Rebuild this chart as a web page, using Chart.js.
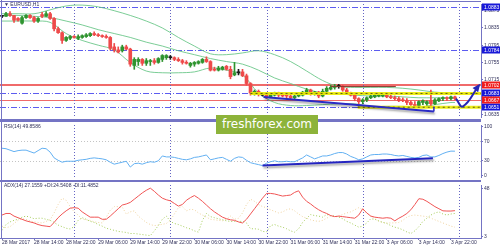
<!doctype html>
<html lang="en">
<head>
<meta charset="utf-8">
<title>EURUSD H1</title>
<script src="https://cdn.jsdelivr.net/npm/chart.js@4.4.0/dist/chart.umd.min.js"></script>
<style>
  html, body { margin: 0; padding: 0; background: #fff; }
  #wrap { position: relative; width: 500px; height: 250px; overflow: hidden; background: #fff; }
  canvas { position: absolute; left: 0; }
  #main { top: 0; }
  #rsi { top: 121px; }
  #adx { top: 181px; }
  .rule { position: absolute; background: #7474c4; }
  .brand { position: absolute; left: 216px; top: 115px; width: 102px; height: 19px; background: #8db33a;
           color: #fff; font: 12px "DejaVu Sans", sans-serif; line-height: 19px; text-align: center; }
</style>
</head>
<body>
<div id="wrap">
  <canvas id="main" width="500" height="121"></canvas>
  <canvas id="rsi" width="500" height="60"></canvas>
  <canvas id="adx" width="500" height="69"></canvas>
  <div class="rule" style="left:1px;top:0;width:1px;height:238px"></div>
  <div class="rule" style="left:0;top:1px;width:481px;height:1px"></div>
  <div class="rule" style="left:0;top:119px;width:481px;height:3px"></div>
  <div class="rule" style="left:0;top:180px;width:481px;height:2px"></div>
  <div class="brand">freshforex.com</div>
</div>
<script>
// hourly bars, 28 Mar 2017 06:00 .. 3 Apr 2017 23:00 (weekend skipped)
const opens = [
  1.0862, 1.0862, 1.0868, 1.0864, 1.0857, 1.0846, 1.0859, 1.0864, 1.0859, 1.0851,
  1.0866, 1.0862, 1.0868, 1.0857, 1.0833, 1.0824, 1.0806, 1.0811, 1.0815, 1.0811,
  1.0813, 1.0815, 1.0817, 1.0822, 1.0819, 1.0817, 1.0815, 1.0813, 1.0791, 1.0784,
  1.0782, 1.0791, 1.0786, 1.0748, 1.0757, 1.0762, 1.0753, 1.0757, 1.0759, 1.0755,
  1.0762, 1.0766, 1.0766, 1.0766, 1.0762, 1.0759, 1.0755, 1.0748, 1.0751, 1.0753,
  1.0755, 1.0762, 1.0757, 1.0739, 1.0737, 1.0739, 1.0746, 1.0739, 1.0726, 1.0731,
  1.0733, 1.0724, 1.0706, 1.0682, 1.0688, 1.0679, 1.0679, 1.0675, 1.0679, 1.0684,
  1.0679, 1.0679, 1.0677, 1.0673, 1.0677, 1.0679, 1.0684, 1.0691, 1.0684, 1.0686,
  1.0677, 1.0688, 1.0693, 1.0697, 1.0699, 1.0699, 1.0691, 1.0684, 1.0679, 1.0671,
  1.0664, 1.0668, 1.0673, 1.0675, 1.0677, 1.0677, 1.0679, 1.0675, 1.0673, 1.0671,
  1.0668, 1.0666, 1.0662, 1.0657, 1.0655, 1.0662, 1.0659, 1.0666, 1.0659, 1.0666,
  1.0671, 1.0673, 1.0671, 1.0675
];
const highs = [
  1.0864, 1.0871, 1.0873, 1.0864, 1.0859, 1.0862, 1.0866, 1.0866, 1.0862, 1.0859,
  1.0871, 1.0873, 1.0871, 1.0859, 1.0837, 1.0826, 1.0815, 1.0817, 1.0817, 1.0819,
  1.0819, 1.0822, 1.0824, 1.0826, 1.0822, 1.0819, 1.0819, 1.0815, 1.0799, 1.0791,
  1.0795, 1.0795, 1.0788, 1.0766, 1.0766, 1.0764, 1.0764, 1.0762, 1.0764, 1.0766,
  1.0773, 1.0773, 1.0771, 1.0768, 1.0766, 1.0762, 1.0759, 1.0755, 1.0757, 1.0759,
  1.0764, 1.0768, 1.0759, 1.0744, 1.0746, 1.0746, 1.0748, 1.0746, 1.0755, 1.0739,
  1.0739, 1.0728, 1.0708, 1.0691, 1.0691, 1.0684, 1.0682, 1.0684, 1.0686, 1.0686,
  1.0684, 1.0682, 1.0682, 1.0679, 1.0684, 1.0688, 1.0695, 1.0693, 1.0688, 1.0688,
  1.0693, 1.0699, 1.0702, 1.0704, 1.0704, 1.0702, 1.0695, 1.0686, 1.0684, 1.0673,
  1.0671, 1.0675, 1.0679, 1.0682, 1.0682, 1.0682, 1.0682, 1.0679, 1.0677, 1.0675,
  1.0673, 1.0671, 1.0666, 1.0664, 1.0666, 1.0668, 1.0666, 1.0691, 1.0671, 1.0673,
  1.0675, 1.0675, 1.0677, 1.0677
];
const lows = [
  1.0859, 1.0862, 1.0862, 1.0848, 1.0851, 1.0844, 1.0857, 1.0857, 1.0848, 1.0848,
  1.0859, 1.0862, 1.0855, 1.0828, 1.0822, 1.0799, 1.0804, 1.0808, 1.0811, 1.0808,
  1.0811, 1.0813, 1.0815, 1.0817, 1.0815, 1.0813, 1.0811, 1.0784, 1.0779, 1.0777,
  1.0779, 1.0784, 1.0746, 1.0739, 1.0748, 1.0748, 1.0748, 1.0748, 1.0751, 1.0753,
  1.0757, 1.0762, 1.0762, 1.0759, 1.0757, 1.0751, 1.0751, 1.0744, 1.0746, 1.0751,
  1.0753, 1.0755, 1.0735, 1.0735, 1.0735, 1.0737, 1.0737, 1.0717, 1.0724, 1.0726,
  1.0722, 1.0702, 1.0679, 1.0679, 1.0677, 1.0677, 1.0671, 1.0673, 1.0677, 1.0675,
  1.0675, 1.0673, 1.0671, 1.0671, 1.0675, 1.0677, 1.0682, 1.0679, 1.0679, 1.0673,
  1.0675, 1.0684, 1.0691, 1.0693, 1.0695, 1.0688, 1.0682, 1.0677, 1.0666, 1.0659,
  1.0659, 1.0664, 1.0671, 1.0673, 1.0675, 1.0675, 1.0673, 1.0671, 1.0668, 1.0664,
  1.0664, 1.0657, 1.0655, 1.0651, 1.0653, 1.0657, 1.0655, 1.0651, 1.0657, 1.0664,
  1.0666, 1.0666, 1.0668, 1.0668
];
const closes = [
  1.0862, 1.0868, 1.0864, 1.0853, 1.0853, 1.0859, 1.0864, 1.0859, 1.0851, 1.0857,
  1.0862, 1.0868, 1.0857, 1.0833, 1.0824, 1.0806, 1.0813, 1.0815, 1.0813, 1.0815,
  1.0817, 1.0819, 1.0822, 1.0819, 1.0817, 1.0815, 1.0813, 1.0788, 1.0784, 1.0779,
  1.0791, 1.0786, 1.0751, 1.0762, 1.0762, 1.0753, 1.0759, 1.0759, 1.0755, 1.0764,
  1.0771, 1.0771, 1.0766, 1.0762, 1.0759, 1.0755, 1.0753, 1.0753, 1.0755, 1.0757,
  1.0762, 1.0757, 1.0737, 1.0737, 1.0742, 1.0744, 1.0739, 1.0722, 1.0731, 1.0731,
  1.0724, 1.0706, 1.0684, 1.0688, 1.0682, 1.0679, 1.0673, 1.0682, 1.0684, 1.0679,
  1.0677, 1.0677, 1.0673, 1.0677, 1.0682, 1.0686, 1.0691, 1.0684, 1.0686, 1.0677,
  1.0688, 1.0695, 1.0697, 1.0699, 1.0699, 1.0691, 1.0684, 1.0679, 1.0671, 1.0664,
  1.0668, 1.0673, 1.0677, 1.0679, 1.0679, 1.0679, 1.0675, 1.0673, 1.0671, 1.0666,
  1.0666, 1.0662, 1.0657, 1.0655, 1.0664, 1.0666, 1.0664, 1.0659, 1.0668, 1.0671,
  1.0673, 1.0671, 1.0675, 1.0671
];

// Bollinger bands (20), read every 4 bars
const bbHours = [0, 4, 8, 12, 16, 20, 24, 28, 32, 36, 40, 44, 48, 52, 56, 60, 64, 68, 72, 76, 80, 84, 88, 92, 96, 100, 104, 108, 112, 113];
const bbUpper = [1.0868, 1.0868, 1.0868, 1.0877, 1.0886, 1.0888, 1.0884, 1.0875, 1.0864, 1.0851, 1.0835, 1.0813, 1.0793, 1.0775, 1.0773,
                 1.0777, 1.0782, 1.0773, 1.0757, 1.0735, 1.0713, 1.0699, 1.0697, 1.0697, 1.0697, 1.0695, 1.0691, 1.0686, 1.0684, 1.0684];
const bbMid   = [1.0864, 1.0864, 1.0862, 1.0859, 1.0851, 1.0842, 1.0831, 1.0822, 1.0813, 1.0802, 1.0793, 1.0782, 1.0773, 1.0764, 1.0757,
                 1.0751, 1.0737, 1.0719, 1.0706, 1.0693, 1.0684, 1.0682, 1.0679, 1.0677, 1.0677, 1.0675, 1.0673, 1.0673, 1.0673, 1.0673];
const bbLower = [1.0851, 1.0851, 1.0851, 1.0848, 1.0822, 1.0806, 1.0795, 1.0784, 1.0755, 1.0735, 1.0731, 1.0731, 1.0733, 1.0742, 1.0737,
                 1.0726, 1.0684, 1.0662, 1.0655, 1.0655, 1.0657, 1.0659, 1.0659, 1.0653, 1.0653, 1.0653, 1.0651, 1.0657, 1.0662, 1.0662];

const rsi = [
  56, 55, 52, 49, 51, 52, 52, 49, 46, 51,
  56, 55, 48, 36, 31, 27, 29, 29, 29, 31,
  32, 33, 35, 36, 35, 34, 32, 27, 23, 25,
  27, 29, 17, 24, 25, 23, 26, 28, 27, 30,
  40, 38, 38, 37, 35, 33, 32, 34, 37, 38,
  40, 42, 32, 34, 36, 37, 33, 29, 35, 38,
  37, 31, 26, 24, 22, 20, 25, 28, 30, 28,
  28, 29, 28, 28, 32, 36, 42, 38, 34, 37,
  40, 40, 42, 45, 47, 47, 44, 39, 36, 32,
  34, 38, 42, 43, 43, 44, 44, 43, 41, 40,
  41, 39, 37, 36, 37, 41, 42, 38, 38, 41,
  45, 48, 50, 49.86
];
const adx = [
  23, 24.5, 24.5, 22, 20.5, 19, 17.5, 16.5, 15.5, 14,
  13, 12.5, 12, 16, 20.5, 24, 27, 29.5, 30, 29.5,
  26, 23.5, 21, 21, 21, 19, 19, 22, 25.5, 29,
  32.5, 33.5, 35, 38, 41, 44, 46.5, 48.5, 45.5, 42,
  39, 37.5, 36.5, 34, 31.5, 33, 37, 39.5, 41.5, 39,
  36, 32.5, 29, 26, 23.5, 21, 19.5, 18.5, 18, 16.5,
  15.5, 19, 24, 29, 34, 39, 43.5, 43.5, 43, 42,
  41, 41.5, 42, 44.5, 46, 40, 36, 33.5, 30.5, 28,
  26, 24.5, 22.5, 21.5, 22, 21.5, 21, 20.5, 20, 23,
  29, 25, 22, 21, 20.5, 20, 20.5, 20, 17.5, 20,
  22, 24.5, 28, 33, 38.5, 38, 36, 33.5, 31, 29,
  27, 26.8, 26.8, 27.16
];
const plusDi = [
  8.5, 14, 16.5, 18, 19, 21, 22, 21, 19.5, 20,
  20, 19, 18, 16, 13.5, 12, 10.5, 9.8, 12, 18,
  20.5, 19, 17, 16, 14, 12.5, 10.5, 9.5, 8.5, 7.5,
  7, 6.5, 5.5, 5.5, 5, 4.5, 4, 3.5, 8, 13,
  19, 22, 17, 15, 14, 12.5, 11, 9.8, 8, 6.8,
  18, 24.5, 21.5, 20.5, 19.5, 18.5, 17.5, 17, 17, 17,
  17, 15.5, 10, 10, 9.5, 7.5, 7, 13, 14, 12.5,
  11.5, 10, 8, 6.8, 10, 16, 20, 23.5, 22.5, 22,
  21, 23.5, 22.5, 22, 21, 19.5, 17, 15.5, 13.5, 11.5,
  12.5, 15.5, 19.5, 19, 17.5, 16, 15, 13, 11.5, 10.5,
  9, 7, 5.5, 8, 12, 17, 20, 23, 25, 26,
  24, 23, 24, 24.54
];
const minusDi = [
  12.5, 11, 12, 15, 18, 19.5, 19, 17.5, 16.5, 16,
  15.5, 17, 18.5, 25, 33, 39, 37, 31, 26, 23,
  19, 18.5, 18, 16.5, 16, 15.5, 21, 27.5, 31, 31,
  30.5, 24, 26, 27, 22, 19, 16, 14, 13, 13.5,
  14.2, 15, 18, 24, 30, 31, 27, 28.5, 28, 25,
  23, 21, 19, 18.5, 18, 17.5, 19, 22, 19, 20,
  25, 33, 38, 36, 33, 31, 30, 28, 26.5, 25,
  26, 28, 29, 27, 24, 21.5, 20, 18.5, 17.5, 17,
  18, 20, 22, 21.5, 22, 23.5, 25, 26, 28, 30,
  28, 25, 22, 19.5, 17, 16, 15.5, 15.5, 15.6, 16,
  18, 21, 22.5, 23, 22.5, 22, 21.5, 20, 18.5, 17,
  15.5, 14, 12.5, 11.48
];

// axis text
const timeLabels = ['28 Mar 2017', '28 Mar 14:00', '28 Mar 22:00', '29 Mar 06:00', '29 Mar 14:00', '29 Mar 22:00',
  '30 Mar 06:00', '30 Mar 14:00', '30 Mar 22:00', '31 Mar 06:00', '31 Mar 14:00', '31 Mar 22:00',
  '3 Apr 06:00', '3 Apr 14:00', '3 Apr 22:00'];
const labelStep = 8;
const dayBreaks = [18, 42, 66, 90, 114];
const priceTicks = [1.0875, 1.0835, 1.0795, 1.0755, 1.0715, 1.0675, 1.0635];
const rsiTicks = [100, 70, 30, 0];
const rsiLevels = [70, 30];
const adxTicks = [48, 3];

// drawn objects
const blueLevels = [1.0883, 1.0784, 1.0683, 1.0651];
const redLevels = [1.0706, 1.0702, 1.0667];
const blueTags = [1.0883, 1.0784, 1.0683, 1.0651];
const redTags = [1.0702, 1.0667];
const supportUpX = [62, 119.5], supportUpY = [1.0683, 1.0683];
const supportLowX = [88.75, 119.5], supportLowY = [1.0651, 1.0651];
const resistX = [82, 98.25], resistY = [1.0699, 1.0699];
const trendX = [65.25, 107.75], trendY = [1.0675, 1.0641];
const trendTickX = [107.75, 107.75], trendTickY = [1.0641, 1.0652];
const arrowX = [113.25, 115, 119], arrowY = [1.0671, 1.0653, 1.0702];
const rsiTrendX = [65, 107.5], rsiTrendY = [20.3, 35.4];

Chart.defaults.font.family = '"Liberation Sans", Arial, sans-serif';
Chart.defaults.font.size = 5;
Chart.defaults.color = '#30305a';
Chart.defaults.elements.point.radius = 0;
Chart.defaults.elements.line.borderWidth = 1;

const FRAME = '#7474c4';
const pts = (xs, ys) => xs.map((x, i) => ({x, y: ys[i]}));
const candleColors = closes.map((c, i) => c > opens[i] ? '#2f942f' : c < opens[i] ? '#ee4a4a' : '#1a1a1a');

const panels = {
  main: {
    label: '\u25BC EURUSD,H1', labelY: 5,
    levels: blueLevels.map(v => ({v, color: '#5c5cf0', dash: [6, 2, 1, 2]}))
      .concat(redLevels.map(v => ({v, color: '#f06a6a', dash: []}))),
    tags: blueTags.map(v => ({v, color: '#1818d8'})).concat(redTags.map(v => ({v, color: '#f01c1c'})))
  },
  rsi: {
    label: 'RSI(14) 49.8586', labelY: 6,
    levels: rsiLevels.map(v => ({v, color: '#c4c4c4', dash: [1, 2]})), tags: []
  },
  adx: { label: 'ADX(14) 27.1559 +DI:24.5408 -DI:11.4852', labelY: 5, levels: [], tags: [] }
};

const mt4 = {
  id: 'mt4',
  beforeDatasetsDraw(chart) {
    const cfg = panels[chart.canvas.id];
    const {ctx, chartArea: a, scales: {x, y}} = chart;
    ctx.save();
    ctx.lineWidth = 1;
    cfg.levels.forEach(l => {
      const py = Math.round(y.getPixelForValue(l.v)) + 0.5;
      ctx.strokeStyle = l.color;
      ctx.setLineDash(l.dash);
      ctx.beginPath(); ctx.moveTo(a.left, py); ctx.lineTo(a.right, py); ctx.stroke();
    });
    ctx.strokeStyle = '#6464c4';
    ctx.setLineDash([1, 2]);
    dayBreaks.forEach(h => {
      const px = Math.round(x.getPixelForValue(h)) + 0.5;
      ctx.beginPath(); ctx.moveTo(px, a.top); ctx.lineTo(px, a.bottom); ctx.stroke();
    });
    ctx.restore();
  },
  beforeDatasetDraw(chart, args) {
    if (chart.data.datasets[args.index].shadow) {
      chart.ctx.save();
      chart.ctx.shadowColor = 'rgba(0,0,0,0.35)';
      chart.ctx.shadowOffsetX = 1;
      chart.ctx.shadowOffsetY = 2;
      chart.ctx.shadowBlur = 2;
    }
  },
  afterDatasetDraw(chart, args) {
    if (chart.data.datasets[args.index].shadow) chart.ctx.restore();
  },
  afterDatasetsDraw(chart) {
    const ctx = chart.ctx;
    chart.data.datasets.forEach((ds, i) => {
      if (!ds.arrow) return;
      const d = chart.getDatasetMeta(i).data;
      const p = d[d.length - 1], q = d[d.length - 2];
      const fx = p.cp1x !== undefined ? p.cp1x : q.x, fy = p.cp1y !== undefined ? p.cp1y : q.y;
      const ang = Math.atan2(p.y - fy, p.x - fx);
      const c = Math.cos(ang), s = Math.sin(ang);
      ctx.save();
      ctx.fillStyle = ds.borderColor;
      ctx.beginPath();
      ctx.moveTo(p.x + 2 * c, p.y + 2 * s);
      ctx.lineTo(p.x - 6 * c + 3.5 * s, p.y - 6 * s - 3.5 * c);
      ctx.lineTo(p.x - 6 * c - 3.5 * s, p.y - 6 * s + 3.5 * c);
      ctx.closePath();
      ctx.fill();
      ctx.restore();
    });
  },
  afterDraw(chart) {
    const cfg = panels[chart.canvas.id];
    const {ctx, chartArea: a, scales: {y}} = chart;
    ctx.save();
    ctx.font = '5px "Liberation Sans", Arial, sans-serif';
    ctx.textBaseline = 'middle';
    ctx.textAlign = 'left';
    ctx.fillStyle = '#30305a';
    ctx.fillText(cfg.label, 4, cfg.labelY);
    cfg.tags.forEach(t => {
      const py = Math.round(y.getPixelForValue(t.v));
      ctx.fillStyle = t.color;
      ctx.fillRect(a.right + 1, py - 3.5, 18, 7);
      ctx.fillStyle = '#fff';
      ctx.fillText(t.v.toFixed(4), a.right + 3, py + 0.5);
    });
    ctx.restore();
  }
};

function options(yMin, yMax, yTicks, fmt, showX, pad) {
  return {
    responsive: false, animation: false, devicePixelRatio: 1,
    layout: { padding: pad },
    plugins: { legend: { display: false }, tooltip: { enabled: false } },
    scales: {
      x: {
        type: 'linear', min: -0.5, max: 119.5, offset: false, display: showX,
        afterBuildTicks: s => { s.ticks = timeLabels.map((_, i) => ({value: i * labelStep})); },
        afterFit: s => { s.height = showX ? 12 : 0; },
        grid: { drawOnChartArea: false, tickLength: 2, color: FRAME },
        border: { display: true, color: FRAME },
        ticks: { autoSkip: false, maxRotation: 0, align: 'start', padding: 0,
                 callback: (v, i) => timeLabels[i] }
      },
      y: {
        position: 'right', min: yMin, max: yMax,
        afterBuildTicks: s => { s.ticks = yTicks.map(v => ({value: v})); },
        afterFit: s => { s.width = 19; },
        grid: { drawOnChartArea: false, tickLength: 2, color: FRAME },
        border: { display: true, color: FRAME },
        ticks: { padding: 1, callback: v => v.toFixed(fmt) }
      }
    }
  };
}

const bandColor = 'rgba(100,196,132,0.85)';

new Chart(document.getElementById('main'), {
  type: 'line',
  data: {
    datasets: [
      { data: pts(arrowX, arrowY), borderColor: '#2626b4', borderWidth: 2, tension: 0.45, order: 1, arrow: true },
      { data: pts(trendX, trendY), borderColor: '#2a2ac4', borderWidth: 2, order: 2, shadow: true },
      { data: pts(trendTickX, trendTickY), borderColor: '#2a2ac4', borderWidth: 1.5, order: 2 },
      { data: pts(resistX, resistY), borderColor: '#8a3a30', order: 3 },
      { data: pts(supportUpX, supportUpY), borderColor: '#5e5e10', borderDash: [2, 3], order: 4 },
      { data: pts(supportLowX, supportLowY), borderColor: '#5e5e10', borderDash: [2, 3], order: 4 },
      { data: pts(supportUpX, supportUpY), borderColor: 'rgba(236,236,0,0.9)', borderWidth: 3, order: 5 },
      { data: pts(supportLowX, supportLowY), borderColor: 'rgba(236,236,0,0.9)', borderWidth: 3, order: 5 },
      { type: 'bar', data: closes.map((c, i) => ({x: i, y: [opens[i], c]})), backgroundColor: candleColors,
        barThickness: 3, minBarLength: 1, grouped: false, order: 6 },
      { type: 'bar', data: closes.map((c, i) => ({x: i, y: [lows[i], highs[i]]})), backgroundColor: candleColors,
        barThickness: 1, grouped: false, order: 7 },
      { data: pts(bbHours, bbUpper), borderColor: bandColor, tension: 0.35, order: 9 },
      { data: pts(bbHours, bbMid), borderColor: bandColor, tension: 0.35, order: 9 },
      { data: pts(bbHours, bbLower), borderColor: bandColor, tension: 0.35, order: 9 }
    ]
  },
  options: options(1.062833, 1.089056, priceTicks, 4, false, {top: 2, bottom: 1, left: 0, right: 0}),
  plugins: [mt4]
});

new Chart(document.getElementById('rsi'), {
  type: 'line',
  data: {
    datasets: [
      { data: pts(rsiTrendX, rsiTrendY), borderColor: '#2424c0', borderWidth: 2, order: 1, shadow: true },
      { data: rsi.map((v, i) => ({x: i, y: v})), borderColor: '#62b0f2', order: 2 }
    ]
  },
  options: options(-3.6, 104.1, rsiTicks, 0, false, 0),
  plugins: [mt4]
});

new Chart(document.getElementById('adx'), {
  type: 'line',
  data: {
    datasets: [
      { data: adx.map((v, i) => ({x: i, y: v})), borderColor: '#f05454', order: 1 },
      { data: plusDi.map((v, i) => ({x: i, y: v})), borderColor: '#a4cc58', borderDash: [1, 2], order: 2 },
      { data: minusDi.map((v, i) => ({x: i, y: v})), borderColor: '#efd3a0', borderDash: [1, 2], order: 3 }
    ]
  },
  options: options(1.24, 51.5, adxTicks, 0, true, 0),
  plugins: [mt4]
});
</script>
</body>
</html>
